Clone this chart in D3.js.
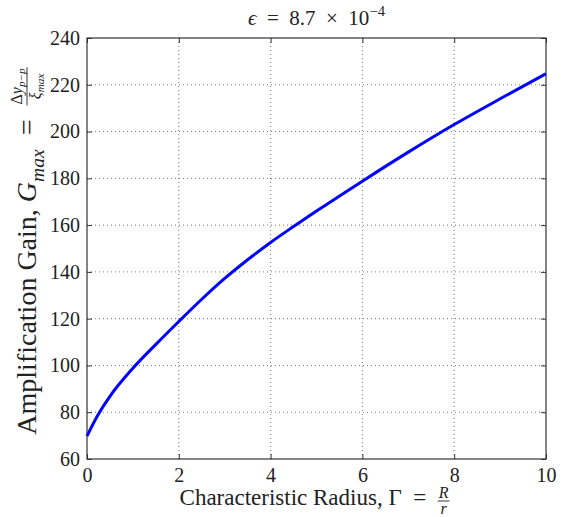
<!DOCTYPE html>
<html>
<head>
<meta charset="utf-8">
<script src="https://cdn.jsdelivr.net/npm/d3@7"></script>
<style>
  body { margin: 0; background: #fff; }
  text { font-family: "Liberation Serif", "DejaVu Serif", serif; fill: #222; }
</style>
</head>
<body>
<script>
// Values
const radius = [0, 0.25, 0.5, 1, 1.5, 2, 2.5, 3, 3.5, 4, 4.5, 5, 6, 7, 8, 9, 10];
const gain = [69.8, 79.2, 86.8, 98.8, 109, 118.8, 128.3, 137.2, 145.2, 152.6, 159.4, 166, 178.8, 191.2, 203, 214, 224.7];
const xTicks = [0, 2, 4, 6, 8, 10];
const yTicks = [60, 80, 100, 120, 140, 160, 180, 200, 220, 240];

const width = 573, height = 517;
const margin = { top: 38, right: 27, bottom: 58, left: 87 };
const serif = "Liberation Serif";

const svg = d3.select("body").append("svg")
  .attr("width", width)
  .attr("height", height);

const x = d3.scaleLinear().domain([0, 10]).range([margin.left, width - margin.right]);
const y = d3.scaleLinear().domain([60, 240]).range([height - margin.bottom, margin.top]);

// dotted grid
const grid = svg.append("g").attr("stroke", "#777").attr("stroke-dasharray", "1,3").attr("stroke-width", 1);
grid.selectAll(".gx").data(xTicks.slice(1, -1)).join("line")
  .attr("x1", d => x(d)).attr("x2", d => x(d))
  .attr("y1", y(60)).attr("y2", y(240));
grid.selectAll(".gy").data(yTicks.slice(1, -1)).join("line")
  .attr("x1", x(0)).attr("x2", x(10))
  .attr("y1", d => y(d)).attr("y2", d => y(d));

// axes, ticks pointing inward like matlab
const fmt = d3.format("d");
const bottom = svg.append("g").attr("transform", `translate(0,${y(60)})`)
  .call(d3.axisBottom(x).tickValues(xTicks).tickFormat(fmt).tickSizeInner(-5).tickSizeOuter(0).tickPadding(9));
const left = svg.append("g").attr("transform", `translate(${x(0)},0)`)
  .call(d3.axisLeft(y).tickValues(yTicks).tickFormat(fmt).tickSizeInner(-5).tickSizeOuter(0).tickPadding(7));
svg.append("g").attr("transform", `translate(0,${y(240)})`)
  .call(d3.axisTop(x).tickValues(xTicks).tickFormat("").tickSizeInner(-5).tickSizeOuter(0));
svg.append("g").attr("transform", `translate(${x(10)},0)`)
  .call(d3.axisRight(y).tickValues(yTicks).tickFormat("").tickSizeInner(-5).tickSizeOuter(0));

svg.selectAll(".domain").remove();
svg.selectAll(".tick line").attr("stroke", "#333");
[bottom, left].forEach(a => a.attr("font-family", serif).attr("font-size", 20)
  .selectAll("text").attr("fill", "#222"));

svg.append("rect")
  .attr("x", x(0)).attr("y", y(240))
  .attr("width", x(10) - x(0)).attr("height", y(60) - y(240))
  .attr("fill", "none").attr("stroke", "#333").attr("stroke-width", 1.2);

// the curve
const line = d3.line()
  .x((d, i) => x(radius[i]))
  .y(d => y(d))
  .curve(d3.curveMonotoneX);

svg.append("path")
  .datum(gain)
  .attr("fill", "none")
  .attr("stroke", "#0000ff")
  .attr("stroke-width", 3)
  .attr("d", line);

// helper for text with sub/superscripts
function addRuns(text, runs, size, subShift = 0.3) {
  let shift = 0;
  runs.forEach(r => {
    const target = r.sub ? size * subShift : r.sup ? -size * 0.42 : 0;
    const t = text.append("tspan").text(r.t).attr("dy", target - shift);
    shift = target;
    if (r.sub || r.sup) t.attr("font-size", size * 0.7);
    if (r.i) t.attr("font-style", "italic");
  });
  return text;
}

// label = main runs followed by a fraction, centered at 0
function mathLabel(g, runs, num, den, size, fsize, numY, lineY, denY) {
  const main = addRuns(g.append("text").attr("font-size", size).attr("x", 0), runs, size);
  const w1 = main.node().getComputedTextLength();
  const n = addRuns(g.append("text").attr("font-size", fsize).attr("y", numY), num, fsize, 0.18);
  const dn = addRuns(g.append("text").attr("font-size", fsize).attr("y", denY), den, fsize, 0.18);
  const wn = n.node().getComputedTextLength();
  const wd = dn.node().getComputedTextLength();
  const fw = Math.max(wn, wd) + 2;
  n.attr("x", w1 + (fw - wn) / 2);
  dn.attr("x", w1 + (fw - wd) / 2);
  g.append("line")
    .attr("x1", w1).attr("x2", w1 + fw)
    .attr("y1", lineY).attr("y2", lineY)
    .attr("stroke", "#222").attr("stroke-width", 0.9);
  const total = w1 + fw;
  g.selectAll("text,line").attr("transform", `translate(${-total / 2},0)`);
}

// title
addRuns(svg.append("text")
  .attr("x", x(5)).attr("y", 25)
  .attr("text-anchor", "middle")
  .attr("font-size", 21),
  [{ t: "ϵ", i: true }, { t: "\u2002=\u20028.7\u2002×\u200210" }, { t: "−4", sup: true }], 21);

// x label
mathLabel(svg.append("g").attr("transform", `translate(${x(5) - 2},505)`),
  [{ t: "Characteristic Radius, Γ\u2002=\u2002" }],
  [{ t: "R", i: true }],
  [{ t: "r", i: true }],
  23, 16, -7, -4, 9);

// y label
mathLabel(svg.append("g").attr("transform", `translate(36,251) rotate(-90)`),
  [{ t: "Amplification Gain, " }, { t: "G", i: true }, { t: "max", i: true, sub: true }, { t: "\u2002=\u2002" }],
  [{ t: "Δ" }, { t: "y", i: true }, { t: "p−p", i: true, sub: true }],
  [{ t: "ξ", i: true }, { t: "max", i: true, sub: true }],
  28, 16, -14, -9, 5);
</script>
</body>
</html>
